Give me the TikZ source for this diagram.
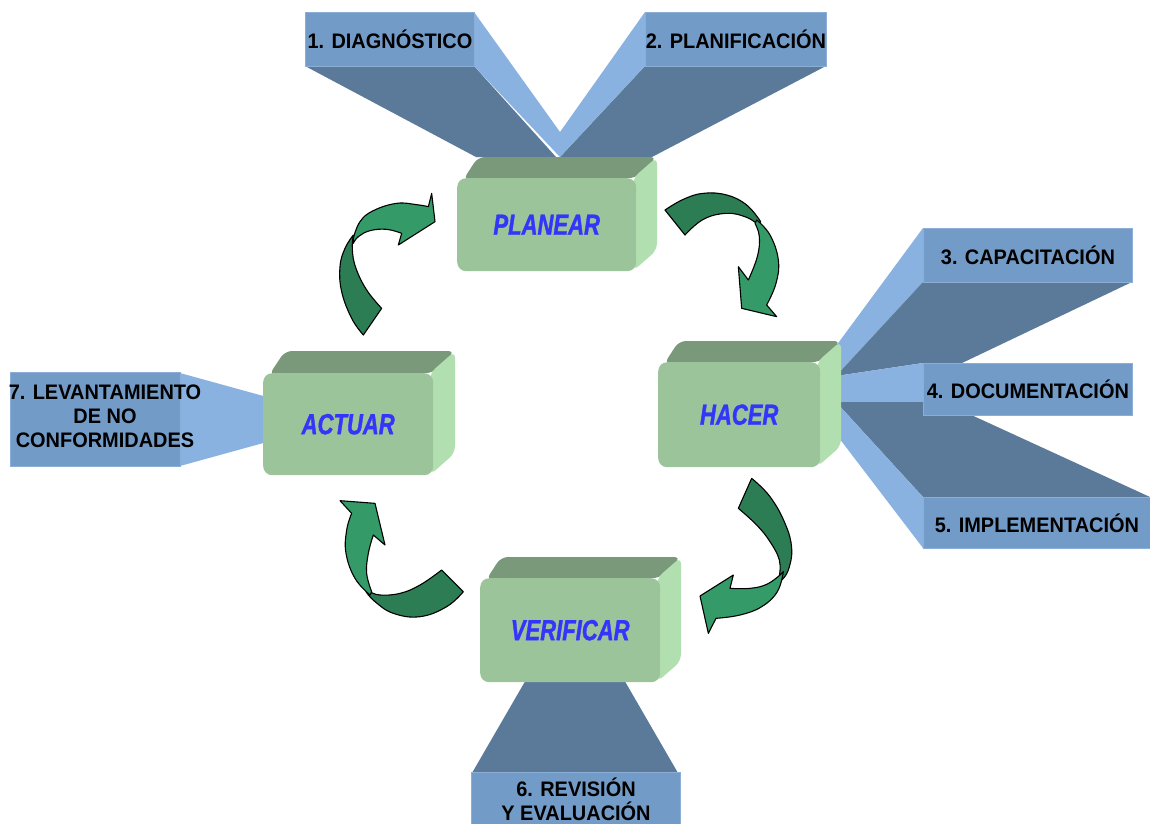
\documentclass[tikz,border=0pt]{standalone}
\usepackage{fontspec}
\setmainfont{Liberation Sans}
\newfontfamily\wordfont{Liberation Sans}[FakeStretch=0.76,FakeBold=1.2]
\newfontfamily\tagfont{Liberation Sans}[FakeStretch=0.95]

\definecolor{tagblue}{RGB}{115,155,199}
\definecolor{tagedge}{RGB}{138,174,214}
\definecolor{beamdark}{RGB}{91,122,153}
\definecolor{beamlight}{RGB}{137,178,224}
\definecolor{facegreen}{RGB}{156,196,154}
\definecolor{topgreen}{RGB}{122,153,122}
\definecolor{sidegreen}{RGB}{178,223,176}
\definecolor{wordblue}{RGB}{52,52,250}
\definecolor{ribbonshade}{RGB}{44,125,84}
\definecolor{ribbonlit}{RGB}{52,155,104}

\tikzset{
  tagbox/.style={fill=tagblue, draw=tagedge, line width=0.8pt, inner sep=0pt,
    font=\tagfont\bfseries\fontsize{21}{24}\selectfont, text=black, align=center},
  tagtext/.style={inner sep=0pt, font=\tagfont\bfseries\fontsize{21}{24}\selectfont, text=black, align=center},
  frontface/.style={fill=facegreen, rounded corners=9pt, inner sep=0pt,
    font=\wordfont\bfseries\itshape\fontsize{29}{30}\selectfont, text=wordblue},
  ribbondark/.style={fill=ribbonshade, draw=black, line width=1.1pt, line join=round},
  ribbonlight/.style={fill=ribbonlit, draw=black, line width=1.1pt, line join=round},
}

% 3-D block: name, x1, y1, x2, y2 (front face), depth, label
\newcommand\pdcablock[7]{%
  \fill[topgreen, rounded corners=7pt] (#2+6,#3+2) -- (#2+#6,#3-#6) -- (#4+#6,#3-#6) -- (#4,#3) -- cycle;
  \fill[sidegreen, rounded corners=7pt] (#4-3,#3) -- (#4+#6,#3-#6) -- (#4+#6,#5-#6) -- (#4-3,#5) -- cycle;
  \node[frontface, minimum width={(#4-#2)*1pt}, minimum height={(#5-#3)*1pt}, anchor=north west] (#1) at (#2,#3) {#7};
}

\begin{document}
\begin{tikzpicture}[x=1pt, y=-1pt]
\fill[white] (0,0) rectangle (1150,823);
\useasboundingbox (0,0) rectangle (1150,823);

% ---- beams behind the labels ----
% top pair
\fill[beamdark] (305,66) -- (474,66) -- (556,157) -- (476,157) -- cycle;
\fill[beamlight] (474,12) -- (560,132) -- (560,157) -- (474,66) -- cycle;
\fill[beamdark] (645,66) -- (826,66) -- (652,157) -- (560,157) -- cycle;
\fill[beamlight] (645,12) -- (560,132) -- (560,157) -- (645,66) -- cycle;
% right fan
\fill[beamlight] (923,228) -- (836,346) -- (836,376) -- (923,282) -- cycle;
\fill[beamdark] (923,282) -- (1132,282) -- (962,363) -- (923,363) -- (836,376) -- cycle;
\fill[beamlight] (836,376) -- (923,363) -- (923,402) -- (836,402) -- cycle;
\fill[beamdark] (836,402) -- (943,402) -- (1150,497) -- (923,497) -- cycle;
\fill[beamlight] (836,402) -- (923,497) -- (923,548) -- (836,434) -- cycle;
% bottom
\fill[beamdark] (527,678) -- (623,678) -- (678,773) -- (472,773) -- cycle;
% left
\fill[beamlight] (180,373) -- (267,397) -- (267,442) -- (180,466) -- cycle;

% ---- labels ----
\node[tagbox, minimum width=169pt, minimum height=54pt, anchor=north west] (diag) at (305,12) {1. DIAGNÓSTICO};
\node[tagbox, minimum width=181pt, minimum height=54pt, anchor=north west] (plan) at (645,12) {2. PLANIFICACIÓN};
\node[tagbox, minimum width=209pt, minimum height=54pt, anchor=north west] (capa) at (923,228) {3. CAPACITACIÓN};
\node[tagbox, minimum width=209pt, minimum height=52pt, anchor=north west] (docu) at (923,363) {4. DOCUMENTACIÓN};
\node[tagbox, minimum width=227pt, minimum height=51pt, anchor=north west] (impl) at (923,497) {5. IMPLEMENTACIÓN};
\node[tagbox, minimum width=209pt, minimum height=52pt, anchor=north west] (revi) at (471,772) {};
\node[tagtext] (revitext) at (576,799) {6. REVISIÓN\\Y EVALUACIÓN};
\node[tagbox, minimum width=170pt, minimum height=94pt, anchor=north west] (leva) at (10,372) {};
\node[tagtext] (levatext) at (105,416) {7. LEVANTAMIENTO\\DE NO\\CONFORMIDADES};

% ---- the four blocks ----
\pdcablock{planear}{457}{178}{636}{271}{21}{PLANEAR}
\pdcablock{hacer}{658}{362}{820}{467}{21}{HACER}
\pdcablock{actuar}{263}{373}{433}{475}{22}{ACTUAR}
\pdcablock{verificar}{480}{578}{660}{682}{21}{VERIFICAR}

% ---- curved ribbon arrows ----
% actuar -> planear
\begin{scope}[shift={(320,180)}, scale=1/3]
  \filldraw[ribbondark] plot[smooth, tension=0.7] coordinates {(100,165)(75,205)(60,260)(65,335)(95,415)(130,465)}
    -- (185,385) -- plot[smooth, tension=0.7] coordinates {(185,385)(140,330)(108,265)(97,210)(100,165)} -- cycle;
  \filldraw[ribbonlight] plot[smooth, tension=0.7] coordinates {(100,175)(120,125)(160,92)(230,70)(290,74)(325,80)}
    -- (335,40) -- (345,125) -- (235,195) -- (245,160)
    -- plot[smooth, tension=0.7] coordinates {(245,160)(200,148)(150,152)(115,170)(100,190)} -- cycle;
\end{scope}
% planear -> hacer
\begin{scope}[shift={(660,180)}, scale=1/3]
  \filldraw[ribbondark] plot[smooth, tension=0.7] coordinates {(15,90)(70,58)(130,40)(200,45)(260,75)(302,125)}
    -- plot[smooth, tension=0.7] coordinates {(295,135)(260,112)(200,100)(130,118)(75,165)} -- cycle;
  \filldraw[ribbonlight] plot[smooth, tension=0.7] coordinates {(290,120)(330,165)(355,240)(348,310)(320,375)}
    -- (350,410) -- (245,385) -- (235,260) -- (265,300)
    -- plot[smooth, tension=0.7] coordinates {(265,300)(292,230)(298,170)(285,130)} -- cycle;
\end{scope}
% hacer -> verificar
\begin{scope}[shift={(690,470)}, scale=1/3]
  \filldraw[ribbondark] plot[smooth, tension=0.7] coordinates {(185,25)(240,80)(285,160)(305,235)(295,300)(275,330)}
    -- plot[smooth, tension=0.7] coordinates {(268,318)(268,270)(240,215)(200,165)(145,115)} -- cycle;
  \filldraw[ribbonlight] plot[smooth, tension=0.7] coordinates {(280,305)(262,365)(215,410)(150,435)(78,445)}
    -- (55,490) -- (30,378) -- (130,315) -- (120,355)
    -- plot[smooth, tension=0.7] coordinates {(120,355)(180,355)(230,343)(270,315)} -- cycle;
\end{scope}
% verificar -> actuar
\begin{scope}[shift={(320,480)}, scale=1/3]
  \filldraw[ribbondark] plot[smooth, tension=0.7] coordinates {(430,335)(380,380)(300,410)(220,400)(165,365)(138,335)}
    -- plot[smooth, tension=0.7] coordinates {(150,335)(180,345)(240,340)(300,315)(365,270)} -- cycle;
  \filldraw[ribbonlight] plot[smooth, tension=0.7] coordinates {(150,345)(105,295)(78,220)(80,150)(95,100)}
    -- (60,62) -- (165,70) -- (195,195) -- (160,165)
    -- plot[smooth, tension=0.7] coordinates {(160,165)(145,220)(140,280)(155,335)} -- cycle;
\end{scope}
\end{tikzpicture}
\end{document}
